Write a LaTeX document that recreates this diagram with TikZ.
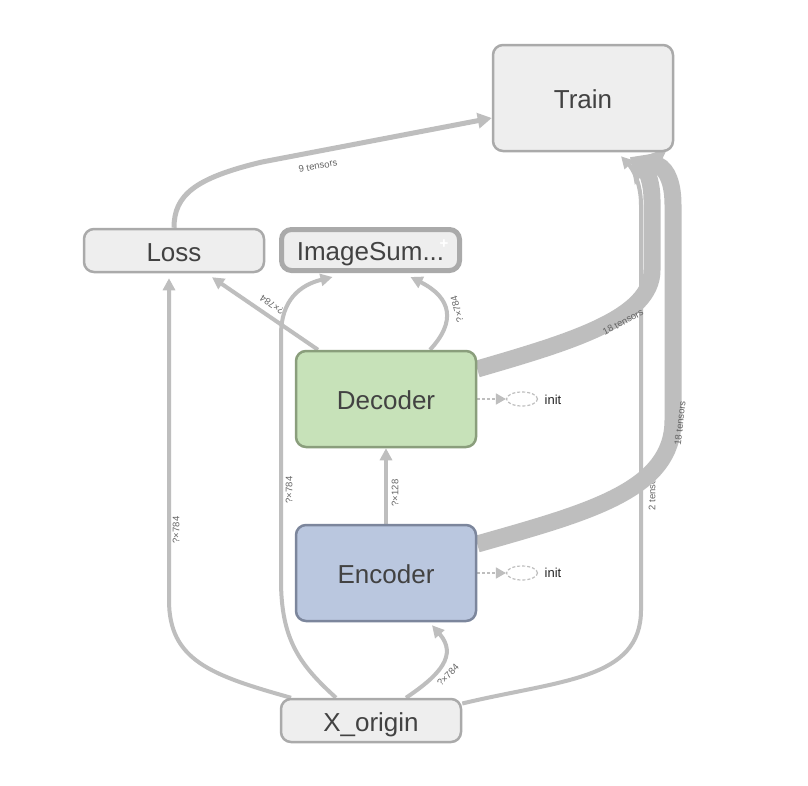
\documentclass[tikz,border=0pt]{standalone}
\usepackage{fontspec}
\setmainfont{Liberation Sans}
\usetikzlibrary{arrows.meta,calc,backgrounds,shapes.geometric}
\definecolor{edgec}{RGB}{190,190,190}
\definecolor{txt}{RGB}{66,66,66}
\definecolor{lbl}{RGB}{100,100,100}
\definecolor{grayfill}{RGB}{238,238,238}
\definecolor{graybd}{RGB}{170,170,170}
\definecolor{decfill}{RGB}{199,226,185}
\definecolor{decbd}{RGB}{138,158,124}
\definecolor{encfill}{RGB}{186,199,223}
\definecolor{encbd}{RGB}{124,134,156}
\begin{document}
\begin{tikzpicture}[x=1pt,y=-1pt,
  box/.style={rounded corners=10pt, draw=graybd, fill=grayfill, line width=2.5pt, text=txt, font=\fontsize{26}{30}\selectfont, inner sep=0pt, text height=21pt, text depth=0pt},
  edge/.style={draw=edgec, line width=4pt, -{Triangle[length=12pt,width=12pt]}},
  bigedge/.style={draw=edgec, line width=17pt, -{Triangle[length=20pt,width=38pt]}},
  elabel/.style={text=lbl, font=\fontsize{9.5}{11}\selectfont, inner sep=1pt},
  initedge/.style={draw=edgec, line width=1.6pt, dash pattern=on 3pt off 2pt, -{Triangle[length=10pt,width=11pt]}},
  initell/.style={ellipse, draw=edgec, line width=1.2pt, dash pattern=on 3pt off 2pt, minimum width=31pt, minimum height=14pt, inner sep=0pt},
  inittext/.style={text=black!85, font=\fontsize{13}{15}\selectfont, inner sep=0pt},
]
\useasboundingbox (0,0) rectangle (808,785);

% nodes
\node[box, minimum width=180pt, minimum height=106pt] (train) at (583,98) {Train};
\node[box, minimum width=180pt, minimum height=43pt] (loss) at (174,250.5) {Loss};
\node[box, line width=5pt, minimum width=178pt, minimum height=41pt] (img) at (370.5,250) {ImageSum...};
\node[text=white, font=\bfseries\fontsize{15}{15}\selectfont, inner sep=0pt] (plus) at (444,244) {+};
\node[box, draw=decbd, fill=decfill, minimum width=180pt, minimum height=96pt] (dec) at (386,399) {Decoder};
\node[box, draw=encbd, fill=encfill, minimum width=180pt, minimum height=96pt] (enc) at (386,573) {Encoder};
\node[box, minimum width=180pt, minimum height=43pt] (xo) at (371,720.5) {X\_origin};

% init nodes
\node[initell] (dinit) at (522,399) {};
\node[inittext] (dinitt) at (553,400) {init};
\node[initell] (einit) at (522,573) {};
\node[inittext] (einitt) at (553,573) {init};

\begin{pgfonlayer}{background}
\fill[white] (0,0) rectangle (808,785);
% X_origin -> Train (2 tensors)
\draw[edge] ($(xo.east)+(0,-17)$) .. controls (560,680) and (641,680) .. (641,610) -- (641,205) .. controls (641,182) and (632,168) .. ($(train.south)+(38,4)$);
\node[elabel, rotate=90] (l2) at (652,491) {2 tensors};
% Decoder -> Train
\draw[bigedge] ($(dec.east)+(0,-30)$) .. controls (570,342) and (652,318) .. (652,270) -- (652,200) .. controls (652,180) and (645,168) .. ($(train.south)+(47,5)$);
% Encoder -> Train
\draw[bigedge] ($(enc.east)+(0,-29)$) .. controls (590,512) and (673,490) .. (673,420) -- (673,205) .. controls (673,185) and (668,170) .. ($(train.south)+(58,5)$);
% Loss -> Train
\draw[edge, line width=5pt, -{Triangle[length=14pt,width=15pt]}] (loss.north) .. controls (174,195) and (195,178) .. (262,162) -- ($(train.west)+(0,20)$);
% Decoder -> Loss
\draw[edge] ($(dec.north)+(-68,0)$) -- ($(loss.south)+(38,4)$);
% Decoder -> ImageSum
\draw[edge] ($(dec.north)+(44,0)$) .. controls (456,322) and (452,298) .. ($(img.south)+(40,4)$);
% Encoder -> Decoder
\draw[edge] (enc.north) -- (dec.south);
% X_origin -> Loss
\draw[edge] ($(xo.north)+(-80,0)$) .. controls (210,675) and (169,660) .. (169,600) -- ($(loss.south)+(-5,5)$);
% X_origin -> ImageSum
\draw[edge] ($(xo.north)+(-35,0)$) .. controls (300,665) and (281,640) .. (281,580) -- (281,335) .. controls (281,300) and (300,285) .. ($(img.south)+(-38,4)$);
% X_origin -> Encoder
\draw[edge] ($(xo.north)+(35,0)$) .. controls (440,675) and (458,655) .. ($(enc.south)+(46,3)$);
% init edges
\draw[initedge] (dec.east) -- (dinit.west);
\draw[initedge] (enc.east) -- (einit.west);
\end{pgfonlayer}

% edge labels
\node[elabel, rotate=11] (l9) at (318,166) {9 tensors};
\node[elabel, rotate=146] (ldl) at (272,305) {?×784};
\node[elabel, rotate=105] (ldi) at (457,309) {?×784};
\node[elabel, rotate=90] (led) at (395,493) {?×128};
\node[elabel, rotate=28] (l18a) at (623,322) {18 tensors};
\node[elabel, rotate=84] (l18b) at (680,423) {18 tensors};
\node[elabel, rotate=90] (lxl) at (176,530) {?×784};
\node[elabel, rotate=90] (lxi) at (289,490) {?×784};
\node[elabel, rotate=46] (lxe) at (448,675) {?×784};
\end{tikzpicture}
\end{document}
